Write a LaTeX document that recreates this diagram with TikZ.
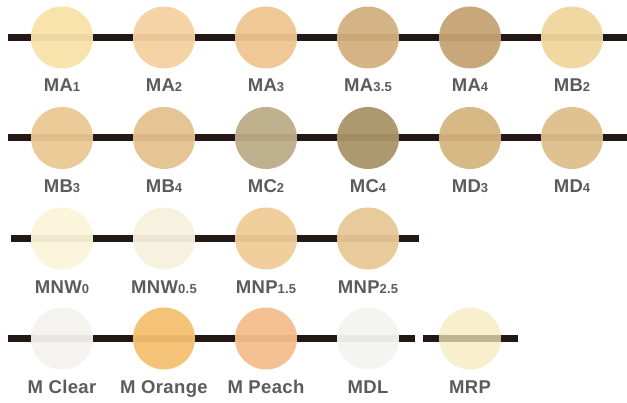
\documentclass[tikz,border=0pt]{standalone}
\usepackage{fontspec}
\newfontfamily\tagfont{Liberation Sans}[LetterSpace=2]
\newcommand{\shadenum}[1]{{\fontsize{13}{15}\selectfont #1}}

\definecolor{barBlack}{HTML}{231815}
\definecolor{tagGray}{HTML}{5B5B5B}
\definecolor{cMAa}{HTML}{F8E1A9}
\definecolor{cMAb}{HTML}{F5D1A0}
\definecolor{cMAc}{HTML}{EEC590}
\definecolor{cMAcc}{HTML}{D2AF7D}
\definecolor{cMAd}{HTML}{C5A274}
\definecolor{cMBb}{HTML}{F0D59D}
\definecolor{cMBc}{HTML}{EAC994}
\definecolor{cMBd}{HTML}{E4C28D}
\definecolor{cMCb}{HTML}{BCAC88}
\definecolor{cMCd}{HTML}{A89368}
\definecolor{cMDc}{HTML}{D5B580}
\definecolor{cMDd}{HTML}{DEBF8B}
\definecolor{cMNWa}{HTML}{FBF4DA}
\definecolor{cMNWb}{HTML}{F7F1DD}
\definecolor{cMNPa}{HTML}{F0CC98}
\definecolor{cMNPb}{HTML}{E8C796}
\definecolor{cClear}{HTML}{F3F2EF}
\definecolor{cOrange}{HTML}{F4C070}
\definecolor{cPeach}{HTML}{F5BE8C}
\definecolor{cMDL}{HTML}{F3F4F2}
\definecolor{cMRP}{HTML}{F5EABE}

\begin{document}
\begin{tikzpicture}[x=1pt, y=-1pt,
    shade/.style={circle, minimum size=62pt, inner sep=0pt, fill opacity=0.95},
    tag/.style={anchor=base, text=tagGray, font=\tagfont\bfseries\fontsize{18.5}{21}\selectfont},
    bar/.style={line width=7pt, barBlack}]
      \useasboundingbox (0,0) rectangle (627,403);
      \coordinate (r1w) at (8,37.5);   \coordinate (r1e) at (627,37.5);
      \coordinate (r2w) at (8,138);    \coordinate (r2e) at (627,138);
      \coordinate (r3w) at (11,238.5); \coordinate (r3e) at (419,238.5);
      \coordinate (r4w) at (8,338.5);  \coordinate (r4e) at (415,338.5);
      \coordinate (r5w) at (423,338.5); \coordinate (r5e) at (518,338.5);
      \draw[bar] (r1w)--(r1e);
      \draw[bar] (r2w)--(r2e);
      \draw[bar] (r3w)--(r3e);
      \draw[bar] (r4w)--(r4e);
      \draw[bar] (r5w)--(r5e);
      % first row
      \node[shade, fill=cMAa] (ma1) at (62,37.5) {};
      \node[shade, fill=cMAb] (ma2) at (164,37.5) {};
      \node[shade, fill=cMAc] (ma3) at (266,37.5) {};
      \node[shade, fill=cMAcc] (ma35) at (368,37.5) {};
      \node[shade, fill=cMAd] (ma4) at (470,37.5) {};
      \node[shade, fill=cMBb] (mb2) at (572,37.5) {};
      \node[tag] (ma1-t) at (62,92) {MA\shadenum{1}};
      \node[tag] (ma2-t) at (164,92) {MA\shadenum{2}};
      \node[tag] (ma3-t) at (266,92) {MA\shadenum{3}};
      \node[tag] (ma35-t) at (368,92) {MA\shadenum{3.5}};
      \node[tag] (ma4-t) at (470,92) {MA\shadenum{4}};
      \node[tag] (mb2-t) at (572,92) {MB\shadenum{2}};
      % second row
      \node[shade, fill=cMBc] (mb3) at (62,138) {};
      \node[shade, fill=cMBd] (mb4) at (164,138) {};
      \node[shade, fill=cMCb] (mc2) at (266,138) {};
      \node[shade, fill=cMCd] (mc4) at (368,138) {};
      \node[shade, fill=cMDc] (md3) at (470,138) {};
      \node[shade, fill=cMDd] (md4) at (572,138) {};
      \node[tag] (mb3-t) at (62,193) {MB\shadenum{3}};
      \node[tag] (mb4-t) at (164,193) {MB\shadenum{4}};
      \node[tag] (mc2-t) at (266,193) {MC\shadenum{2}};
      \node[tag] (mc4-t) at (368,193) {MC\shadenum{4}};
      \node[tag] (md3-t) at (470,193) {MD\shadenum{3}};
      \node[tag] (md4-t) at (572,193) {MD\shadenum{4}};
      % third row
      \node[shade, fill=cMNWa] (mnw0) at (62,238.5) {};
      \node[shade, fill=cMNWb] (mnw05) at (164,238.5) {};
      \node[shade, fill=cMNPa] (mnp15) at (266,238.5) {};
      \node[shade, fill=cMNPb] (mnp25) at (368,238.5) {};
      \node[tag] (mnw0-t) at (62,294) {MNW\shadenum{0}};
      \node[tag] (mnw05-t) at (164,294) {MNW\shadenum{0.5}};
      \node[tag] (mnp15-t) at (266,294) {MNP\shadenum{1.5}};
      \node[tag] (mnp25-t) at (368,294) {MNP\shadenum{2.5}};
      % fourth row
      \node[shade, fill=cClear] (mclear) at (62,338.5) {};
      \node[shade, fill=cOrange] (morange) at (164,338.5) {};
      \node[shade, fill=cPeach] (mpeach) at (266,338.5) {};
      \node[shade, fill=cMDL] (mdl) at (368,338.5) {};
      \node[shade, fill=cMRP, fill opacity=0.75] (mrp) at (470,338.5) {};
      \node[tag] (mclear-t) at (62,394) {M Clear};
      \node[tag] (morange-t) at (164,394) {M Orange};
      \node[tag] (mpeach-t) at (266,394) {M Peach};
      \node[tag] (mdl-t) at (368,394) {MDL};
      \node[tag] (mrp-t) at (470,394) {MRP};
\end{tikzpicture}
\end{document}
